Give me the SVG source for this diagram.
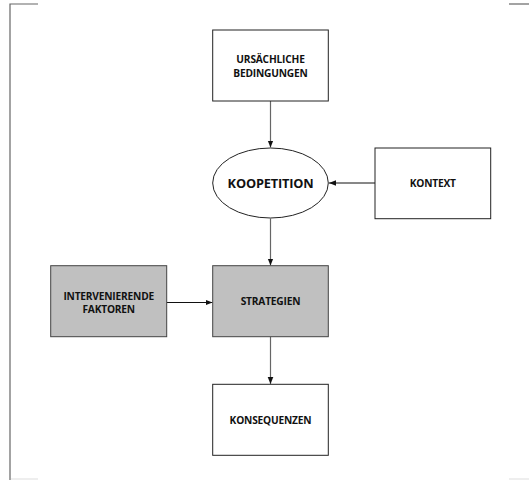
<svg xmlns="http://www.w3.org/2000/svg" width="529" height="480" viewBox="0 0 529 480">
<defs>
<style>
.box{fill:#fff;stroke:#222;stroke-width:1}
.grey{fill:#c0c0c0;stroke:#444;stroke-width:1}
.t{font-family:"Open Sans","Liberation Sans",sans-serif;font-weight:bold;font-size:10.2px;fill:#111;text-anchor:middle;letter-spacing:-0.2px}
.big{font-size:12.8px}
.v{stroke:#666;stroke-width:1.2;fill:none}
.h{stroke:#111;stroke-width:1;fill:none}
</style>
<marker id="ah" markerWidth="8" markerHeight="8" refX="7" refY="4" orient="auto" markerUnits="userSpaceOnUse">
<path d="M0,1.2 L7,4 L0,6.8 Z" fill="#111"/>
</marker>
</defs>
<g id="frame">
<path d="M38,4 H10 V480" fill="none" stroke="#666" stroke-width="1.2"/>
<path d="M509,4 H529" fill="none" stroke="#666" stroke-width="1.2"/>
<path d="M11,479 H38 M509,479 H529" fill="none" stroke="#ddd" stroke-width="1"/>
</g>
<g id="connectors">
<line class="v" x1="270.5" y1="101" x2="270.5" y2="147.5" marker-end="url(#ah)"/>
<line class="h" x1="375" y1="183" x2="329" y2="183" marker-end="url(#ah)"/>
<line class="v" x1="270.5" y1="218.5" x2="270.5" y2="265.5" marker-end="url(#ah)"/>
<line class="h" x1="166.7" y1="302.5" x2="212.5" y2="302.5" marker-end="url(#ah)"/>
<line class="v" x1="270.5" y1="336.7" x2="270.5" y2="384" marker-end="url(#ah)"/>
</g>
<g id="ursaechliche">
<rect class="box" x="212.7" y="30" width="115.6" height="71"/>
<text class="t" x="270.5" y="63">URSÄCHLICHE</text>
<text class="t" x="270.5" y="76.5">BEDINGUNGEN</text>
</g>
<g id="koopetition">
<ellipse class="box" cx="270.5" cy="183" rx="57.8" ry="35"/>
<text class="t big" x="270.5" y="187.5">KOOPETITION</text>
</g>
<g id="kontext">
<rect class="box" x="375" y="148" width="115.7" height="70.7"/>
<text class="t" x="432.8" y="187">KONTEXT</text>
</g>
<g id="intervenierende">
<rect class="grey" x="50.7" y="265.7" width="116" height="71"/>
<text class="t" x="108.7" y="300">INTERVENIERENDE</text>
<text class="t" x="108.7" y="312.5">FAKTOREN</text>
</g>
<g id="strategien">
<rect class="grey" x="212.7" y="265.7" width="115.6" height="71"/>
<text class="t" x="270.5" y="304.5">STRATEGIEN</text>
</g>
<g id="konsequenzen">
<rect class="box" x="212.7" y="384.3" width="115.6" height="71"/>
<text class="t" x="270.5" y="424">KONSEQUENZEN</text>
</g>
</svg>
